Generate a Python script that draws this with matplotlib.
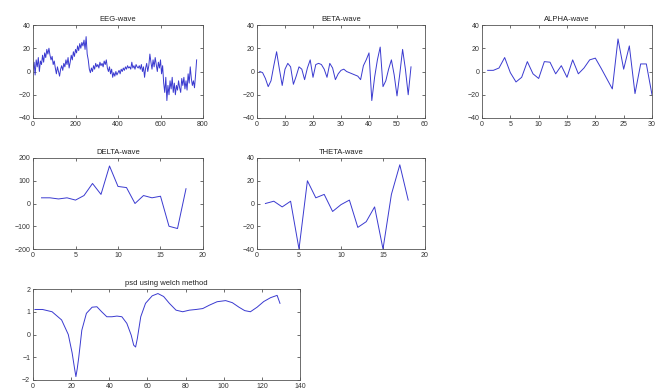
import numpy as np
import matplotlib
matplotlib.use("Agg")
import matplotlib.pyplot as plt

plt.rcParams['font.family'] = ['Liberation Sans', 'DejaVu Sans']

# ---------------- data ----------------
eeg_step = 5
eeg_values = [
    2, 8, -3, 10, 4, 12, 0, 9, 6, 14, 8, 16, 12, 19, 15, 20, 14, 10, 13, 6, 9,
    3, -2, 4, 0, -4, 2, 5, 1, 7, 4, 10, 6, 12, 3, 8, 14, 10, 17, 13, 19,
    16, 22, 18, 24, 20, 25, 22, 27, 19, 30, 15, 10, 2, -1, 3, 0, 5, 2, 7, 4,
    6, 3, 8, 5, 7, 4, 9, 6, 10, 3, 0, 4, -2, 2, -5, -1, -4, 0, -3, -1,
    1, -2, 2, 0, 3, 1, 4, 2, 5, 3, 4, 2, 8, 3, 5, 2, 6, 4, 3, 5,
    2, 6, 0, 4, -5, 3, 7, 0, 5, 15, 8, 2, 10, 4, 12, 6, 0, 8, 3, 10,
    -2, 5, -10, -18, -5, -25, -12, -20, -8, -15, -5, -18, -10, -20, -12, -16, -8, -14, -18, -6,
    -12, -5, -15, -8, -16, -2, -10, 4, -6, -12, -8, -14, -3, 10,
]

beta_values = [0, -1, -6, -13, -8, 5, 17, 2, -12, 2, 7, 4, -11, -4, 4, 2, -7, 3, 10, -5,
               6, 7, 6, 2, -5, 7, 3, -7, -2, 1, 2, 0, -1, -2, -3, -4, -7, 5, 10, 16,
               -25, -5, 10, 21, -13, -8, 2, 10, -3, -21, -2, 19, 2, -20, 4]

alpha_values = [1, 1, 3, 12, -1, -9, -5, 8.5, -2, -6, 8.5, 8, -2, 5, -5, 10, -2, 3, 10, 11.5,
                3, -6, -15, 28, 2, 22, -19, 6.5, 6.5, -20]

delta_values = [25, 25, 20, 25, 15, 35, 88, 40, 165, 75, 70, 0, 35, 25, 32, -100, -110, 65]

theta_values = [0, 2, -3, 2, -40, 20, 5, 8, -7, -1, 3, -21, -16, -3, -40, 8, 34, 3]

psd_x = [1, 5, 10, 15, 18.5, 20.5, 21.8, 22.5, 23.2, 24, 25.6, 28, 31, 33.5, 36, 38.7, 41.4, 44,
         46.6, 49.2, 51.5, 52.8, 53.8, 54.7, 56.5, 59, 62.5, 65.5, 68.5, 71.5, 75, 78.5,
         82, 85.5, 89, 92.5, 96.5, 101, 104.5, 108, 111, 114, 117.5, 121, 124.6,
         128, 129.5]
psd_y = [1.1, 1.1, 1.0, 0.64, 0.0, -0.8, -1.5, -1.85, -1.5, -1.0, 0.19, 0.93, 1.2, 1.22,
         1.0, 0.78, 0.78, 0.81, 0.78, 0.49, -0.03, -0.47, -0.55, -0.18, 0.78, 1.37, 1.7,
         1.8, 1.67, 1.37, 1.07, 1.0, 1.07, 1.1, 1.14, 1.29, 1.44, 1.49, 1.4, 1.2, 1.05,
         1.0, 1.2, 1.45, 1.62, 1.72, 1.37]

# ---------------- layout ----------------
W, H = 663, 392
fig = plt.figure(figsize=(W / 100, H / 100), dpi=100)


def make_ax(left, right, top, bottom):
    return fig.add_axes([left / W, 1 - bottom / H, (right - left) / W, (bottom - top) / H])


LINE = dict(color='#3a3ad0', linewidth=0.7)


def style(ax, title, xlim, xticks, ylim, yticks):
    ax.set_xlim(*xlim)
    ax.set_ylim(*ylim)
    ax.set_xticks(xticks)
    ax.set_yticks(yticks)
    ax.set_title(title, fontsize=5.5, pad=3, color='#222222')
    ax.tick_params(direction='in', length=2.5, width=0.5, labelsize=5,
                   top=True, right=True, pad=2, colors='#333333')
    for s in ax.spines.values():
        s.set_linewidth(0.6)
        s.set_color('#555555')


# EEG
ax = make_ax(33, 203, 25, 118)
ax.plot(np.arange(len(eeg_values)) * eeg_step, eeg_values, **LINE)
style(ax, 'EEG-wave', (0, 800), [0, 200, 400, 600, 800], (-40, 40), [-40, -20, 0, 20, 40])

# BETA
ax = make_ax(257, 425, 25, 118)
ax.plot(np.arange(1, len(beta_values) + 1), beta_values, **LINE)
style(ax, 'BETA-wave', (0, 60), [0, 10, 20, 30, 40, 50, 60], (-40, 40), [-40, -20, 0, 20, 40])

# ALPHA
ax = make_ax(482, 652, 25, 118)
ax.plot(np.arange(1, len(alpha_values) + 1), alpha_values, **LINE)
style(ax, 'ALPHA-wave', (0, 30), [0, 5, 10, 15, 20, 25, 30], (-40, 40), [-40, -20, 0, 20, 40])

# DELTA
ax = make_ax(33, 203, 158, 249)
ax.plot(np.arange(1, len(delta_values) + 1), delta_values, **LINE)
style(ax, 'DELTA-wave', (0, 20), [0, 5, 10, 15, 20], (-200, 200), [-200, -100, 0, 100, 200])

# THETA
ax = make_ax(257, 425, 158, 249)
ax.plot(np.arange(1, len(theta_values) + 1), theta_values, **LINE)
style(ax, 'THETA-wave', (0, 20), [0, 5, 10, 15, 20], (-40, 40), [-40, -20, 0, 20, 40])

# PSD
ax = make_ax(33, 300, 289, 380)
ax.plot(psd_x, psd_y, **LINE)
style(ax, 'psd using welch method', (0, 140), [0, 20, 40, 60, 80, 100, 120, 140], (-2, 2),
      [-2, -1, 0, 1, 2])

fig.savefig('out.png', dpi=100)
